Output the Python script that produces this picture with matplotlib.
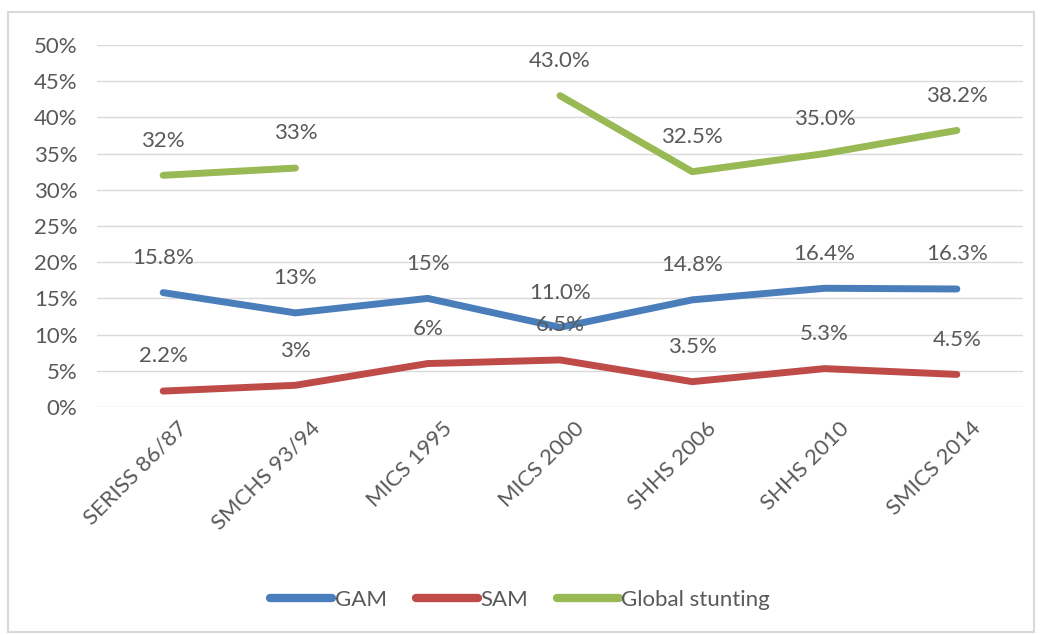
import numpy as np
import matplotlib.pyplot as plt
import matplotlib.transforms as mtransforms
from matplotlib.patches import Rectangle

# ==================
# Data
# ==================
surveys = ['SERISS 86/87', 'SMCHS 93/94', 'MICS 1995', 'MICS 2000',
           'SHHS 2006', 'SHHS 2010', 'SMICS 2014']
gam = [15.8, 13, 15, 11.0, 14.8, 16.4, 16.3]
sam = [2.2, 3, 6, 6.5, 3.5, 5.3, 4.5]
stunting = [32, 33, np.nan, 43.0, 32.5, 35.0, 38.2]

gam_labels = ['15.8%', '13%', '15%', '11.0%', '14.8%', '16.4%', '16.3%']
sam_labels = ['2.2%', '3%', '6%', '6.5%', '3.5%', '5.3%', '4.5%']
stunting_labels = ['32%', '33%', '', '43.0%', '32.5%', '35.0%', '38.2%']

yticks = np.arange(0, 51, 5)

# ==================
# Plot
# ==================
plt.rcParams['font.family'] = ['Lato', 'DejaVu Sans']
text_col = '#595959'
fs = 16

fig = plt.figure(figsize=(10.4, 6.35), dpi=100)
ax = fig.add_axes([97 / 1040, 1 - 407 / 635, (1023 - 97) / 1040, (407 - 45) / 635])

# chart border
fig.patches.append(Rectangle((8 / 1040, 3 / 635), 1026 / 1040, 620 / 635,
                             transform=fig.transFigure, fill=False,
                             edgecolor='#d9d9d9', linewidth=1.5))

x = np.arange(len(surveys))
series = [('GAM', gam, gam_labels, '#4a7ebb'),
          ('SAM', sam, sam_labels, '#be4b48'),
          ('Global stunting', stunting, stunting_labels, '#98b954')]

for name, vals, labs, col in series:
    ax.plot(x, vals, color=col, linewidth=5, solid_capstyle='round',
            solid_joinstyle='round', label=name, zorder=3)
    for xi, v, lab in zip(x, vals, labs):
        if lab:
            ax.annotate(lab, (xi, v), xytext=(0, 25), textcoords='offset points',
                        ha='center', va='center', fontsize=fs, color=text_col)

ax.set_xlim(-0.5, len(surveys) - 0.5)
ax.set_ylim(0, 50)
ax.set_yticks(yticks)
ax.set_yticklabels([f'{t}%' for t in yticks], fontsize=fs, color=text_col)
ax.set_xticks(x)
ax.set_xticklabels(surveys, rotation=45, ha='right', rotation_mode='anchor',
                   fontsize=fs, color=text_col)
ax.tick_params(length=0, pad=14)
ax.tick_params(axis='x', pad=8)
# shift the rotated labels a little to the right, like Excel does
shift = mtransforms.ScaledTranslation(0.14, 0.0, fig.dpi_scale_trans)
for lbl in ax.get_xticklabels():
    lbl.set_transform(lbl.get_transform() + shift)
ax.grid(axis='y', color='#d9d9d9', linewidth=1)
ax.set_axisbelow(True)
for s in ax.spines.values():
    s.set_visible(False)

fig.legend(loc='center', bbox_to_anchor=(0.5, 1 - 600 / 635), ncol=3,
           frameon=False, fontsize=fs, handlelength=2.8, handletextpad=0.1,
           columnspacing=1.3, labelcolor=text_col)
for h in fig.legends[0].get_lines():
    h.set_linewidth(6)

fig.savefig('out.png', dpi=100)
plt.close()
